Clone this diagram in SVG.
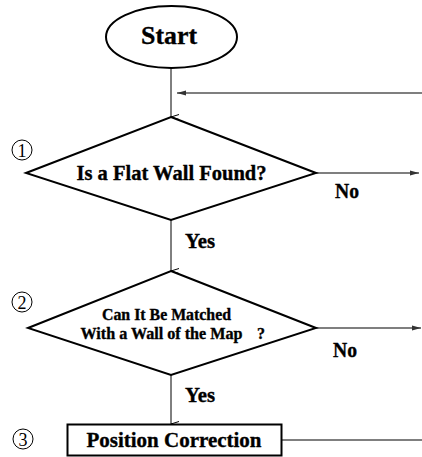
<svg xmlns="http://www.w3.org/2000/svg" width="422" height="457" viewBox="0 0 422 457">
<style>
.shape{fill:#fff;stroke:#000;stroke-width:2}
.t{font-family:'Liberation Serif','Times New Roman',serif;font-weight:bold;fill:#000;stroke:#000;stroke-width:0.35}
.num{font-family:'Liberation Serif','Times New Roman',serif;font-size:18px;fill:#000;text-anchor:middle}
.ring{fill:none;stroke:#000;stroke-width:1}
.v{stroke:#000;stroke-width:1;fill:none}
.h{stroke:#555;stroke-width:1.5;fill:none}
</style>
<defs>
<marker id="chev" viewBox="0 0 6 9" refX="3" refY="9" markerWidth="6" markerHeight="9" markerUnits="userSpaceOnUse" orient="auto-start-reverse">
<path d="M0.5,1 L3,9 L5.5,1" fill="none" stroke="#000" stroke-width="1"/>
</marker>
<marker id="tri" viewBox="0 0 9 6" refX="9" refY="3" markerWidth="9" markerHeight="6" markerUnits="userSpaceOnUse" orient="auto">
<path d="M0,0.5 L9,3 L0,5.5 Z" fill="#333"/>
</marker>
</defs>
<g id="connectors">
<line class="v" x1="171" y1="68" x2="171" y2="117" marker-end="url(#chev)"/>
<line class="v" x1="171" y1="220" x2="171" y2="271" marker-end="url(#chev)"/>
<line class="v" x1="171" y1="375" x2="171" y2="424" marker-end="url(#chev)"/>
<line class="h" x1="422" y1="93" x2="177" y2="93" marker-end="url(#tri)"/>
<line class="h" x1="316" y1="173" x2="419" y2="173" marker-end="url(#tri)"/>
<line class="h" x1="316" y1="328" x2="421" y2="328" marker-end="url(#tri)"/>
<line class="h" x1="282" y1="440" x2="422" y2="440"/>
<text class="t" x="335" y="198" font-size="20" textLength="24" lengthAdjust="spacingAndGlyphs">No</text>
<text class="t" x="185" y="248" font-size="20" textLength="30" lengthAdjust="spacingAndGlyphs">Yes</text>
<text class="t" x="333" y="357" font-size="20" textLength="24" lengthAdjust="spacingAndGlyphs">No</text>
<text class="t" x="185" y="402" font-size="20" textLength="30" lengthAdjust="spacingAndGlyphs">Yes</text>
</g>
<g id="start">
<ellipse class="shape" cx="171.5" cy="37" rx="65.5" ry="31"/>
<text class="t" x="141" y="44" font-size="26" textLength="56" lengthAdjust="spacingAndGlyphs">Start</text>
</g>
<g id="decision1">
<polygon class="shape" points="171,117 316,173 171,220 26,173"/>
<text class="t" x="76.5" y="180" font-size="20" textLength="190" lengthAdjust="spacingAndGlyphs">Is a Flat Wall Found?</text>
<circle class="ring" cx="22" cy="150" r="10"/>
<text class="num" x="22" y="156.5">1</text>
</g>
<g id="decision2">
<polygon class="shape" points="171,271 316,328 171,375 28,328"/>
<text class="t" x="102" y="320" font-size="16" textLength="129" lengthAdjust="spacingAndGlyphs">Can It Be Matched</text>
<text class="t" y="339" font-size="16"><tspan x="80.5" textLength="162" lengthAdjust="spacingAndGlyphs">With a Wall of the Map</tspan><tspan x="257">?</tspan></text>
<circle class="ring" cx="22" cy="302" r="10"/>
<text class="num" x="22" y="308.5">2</text>
</g>
<g id="correction">
<rect class="shape" x="67.5" y="424.5" width="214" height="31"/>
<text class="t" x="86.5" y="447" font-size="21" textLength="175" lengthAdjust="spacingAndGlyphs">Position Correction</text>
<circle class="ring" cx="23" cy="439" r="10"/>
<text class="num" x="23" y="445.5">3</text>
</g>
</svg>
